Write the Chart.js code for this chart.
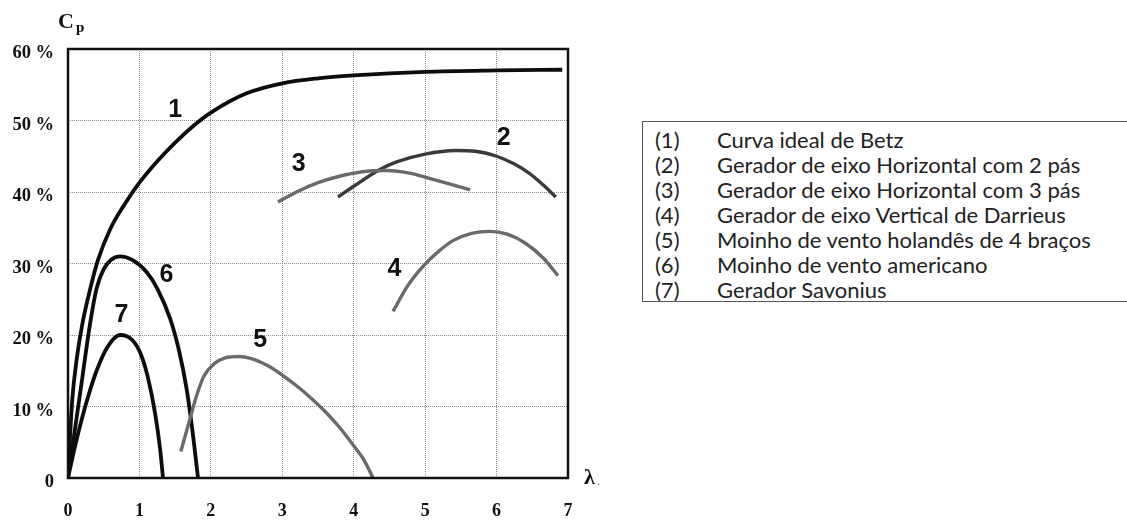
<!DOCTYPE html>
<html>
<head>
<meta charset="utf-8">
<script src="https://cdn.jsdelivr.net/npm/chart.js@4.4.1/dist/chart.umd.min.js"></script>
<style>
  body { margin: 0; background: #fff; width: 1127px; height: 523px; overflow: hidden; position: relative; }
  #wrap { position: absolute; left: 0; top: 0; width: 620px; height: 523px; }
  #legend {
    position: absolute; left: 642px; top: 121px; width: 500px; height: 181px;
    border: 1px solid #555; box-sizing: border-box;
    font-family: Lato, "Open Sans", sans-serif; font-size: 22px; color: #222;
    padding-top: 5px;
  }
  #legend .row { height: 25px; line-height: 25px; white-space: nowrap; }
  #legend .num { display: inline-block; width: 74px; padding-left: 12px; box-sizing: border-box; }
</style>
</head>
<body>
<div id="wrap"><canvas id="cp-chart" width="620" height="523"></canvas></div>
<div id="legend"></div>
<script>
// power coefficient Cp (%) against tip speed ratio lambda

// (1) ideal Betz curve
const betzX = [0, 0.03, 0.06, 0.12, 0.2, 0.3, 0.42, 0.6, 0.8, 1.0, 1.25, 1.5, 1.75, 2.0, 2.5, 3.0, 3.5, 4.0, 5.0, 6.0, 6.92];
const betzY = [0, 6, 11, 16.5, 21.5, 26, 30.5, 35, 38.4, 41.3, 44.3, 46.9, 49.2, 51.1, 53.8, 55.2, 55.9, 56.3, 56.8, 57, 57.1];

// (2) horizontal axis, 2 blades
const twoBladeX = [3.78, 4.0, 4.36, 4.6, 5.0, 5.43, 5.7, 6.0, 6.25, 6.46, 6.65, 6.83];
const twoBladeY = [39.3, 40.8, 43.1, 44.2, 45.3, 45.8, 45.7, 45, 43.9, 42.6, 41, 39.3];

// (3) horizontal axis, 3 blades
const threeBladeX = [2.94, 3.2, 3.5, 3.8, 4.1, 4.46, 4.8, 5.06, 5.35, 5.63];
const threeBladeY = [38.6, 40, 41.3, 42.2, 42.8, 43, 42.6, 41.9, 41.1, 40.3];

// (4) Darrieus
const darrieusX = [4.55, 4.75, 4.97, 5.2, 5.39, 5.65, 5.9, 6.15, 6.41, 6.65, 6.86];
const darrieusY = [23.3, 26.8, 29.6, 31.8, 33.2, 34.2, 34.5, 34.1, 32.8, 30.8, 28.3];

// (5) dutch four-arm windmill
const dutchX = [1.58, 1.7, 1.8, 1.9, 2.05, 2.2, 2.4, 2.6, 2.8, 3.0, 3.2, 3.4, 3.6, 3.8, 4.0, 4.15, 4.27];
const dutchY = [3.7, 8, 11.5, 14.2, 16, 16.8, 17, 16.6, 15.7, 14.4, 12.9, 11.2, 9.3, 7.1, 4.5, 2.4, 0];

// (6) american multi-blade
const americanX = [0, 0.1, 0.2, 0.3, 0.4, 0.5, 0.6, 0.73, 0.9, 1.1, 1.25, 1.43, 1.55, 1.66, 1.75, 1.82];
const americanY = [0, 7, 14, 21, 26.5, 29.2, 30.5, 31, 30.5, 28.8, 26.5, 22.3, 18, 12.5, 6, 0];

// (7) Savonius
const savoniusX = [0, 0.1, 0.2, 0.3, 0.4, 0.55, 0.73, 0.9, 1.02, 1.12, 1.22, 1.29, 1.33];
const savoniusY = [0, 4.5, 8.5, 12, 15, 18.3, 20, 19.3, 17.3, 14, 9, 4, 0];

// numbers written next to each curve (lambda, Cp)
const tagText = ['1', '2', '3', '4', '5', '6', '7'];
const tagX = [1.5, 6.1, 3.23, 4.57, 2.69, 1.38, 0.75];
const tagY = [51.5, 47.6, 43.9, 29.2, 19.3, 28.4, 22.8];

const legendNums = ['(1)', '(2)', '(3)', '(4)', '(5)', '(6)', '(7)'];
const legendTexts = [
  'Curva ideal de Betz',
  'Gerador de eixo Horizontal com 2 pás',
  'Gerador de eixo Horizontal com 3 pás',
  'Gerador de eixo Vertical de Darrieus',
  'Moinho de vento holandês de 4 braços',
  'Moinho de vento americano',
  'Gerador Savonius'
];

const toPoints = (xs, ys) => xs.map((x, i) => ({ x: x, y: ys[i] }));

function curve(xs, ys, color, width) {
  return {
    data: toPoints(xs, ys),
    showLine: true,
    borderColor: color,
    borderWidth: width,
    pointRadius: 0,
    cubicInterpolationMode: 'monotone',
    borderCapStyle: 'butt',
    fill: false
  };
}

const serif = '"Liberation Serif", "DejaVu Serif", serif';

// frame, curve numbers, Cp and lambda
const extras = {
  id: 'extras',
  afterDraw(chart) {
    const { ctx, chartArea: a, scales } = chart;
    ctx.save();
    ctx.strokeStyle = '#111';
    ctx.lineWidth = 2.5;
    ctx.strokeRect(a.left, a.top, a.right - a.left, a.bottom - a.top);

    ctx.fillStyle = '#111';
    ctx.font = 'bold 25px "Liberation Sans", Arial, sans-serif';
    ctx.textAlign = 'center';
    ctx.textBaseline = 'middle';
    tagText.forEach((t, i) => {
      ctx.fillText(t, scales.x.getPixelForValue(tagX[i]), scales.y.getPixelForValue(tagY[i]));
    });

    ctx.textAlign = 'left';
    ctx.textBaseline = 'alphabetic';
    ctx.font = 'bold 22px ' + serif;
    ctx.fillText('C', a.left - 10, a.top - 21);
    ctx.font = 'bold 15px ' + serif;
    ctx.fillText('p', a.left + 8, a.top - 17);

    ctx.font = 'bold 22px ' + serif;
    ctx.textBaseline = 'middle';
    ctx.fillText('λ', a.right + 16, a.bottom);
    ctx.font = '12px ' + serif;
    ctx.fillStyle = '#777';
    ctx.fillText('.', a.right + 29, a.bottom + 4);
    ctx.restore();
  }
};

new Chart(document.getElementById('cp-chart'), {
  type: 'scatter',
  data: {
    datasets: [
      curve(dutchX, dutchY, '#6a6a6a', 3.4),
      curve(darrieusX, darrieusY, '#6a6a6a', 3.4),
      curve(threeBladeX, threeBladeY, '#6a6a6a', 3.4),
      curve(twoBladeX, twoBladeY, '#3a3a3a', 3.4),
      curve(savoniusX, savoniusY, '#0d0d0d', 3.8),
      curve(americanX, americanY, '#0d0d0d', 3.8),
      curve(betzX, betzY, '#0d0d0d', 3.8)
    ]
  },
  options: {
    responsive: false,
    animation: false,
    layout: { padding: { top: 49, right: 52, left: 0, bottom: 0 } },
    plugins: { legend: { display: false }, tooltip: { enabled: false } },
    scales: {
      x: {
        type: 'linear', min: 0, max: 7,
        afterFit(scale) { scale.height = 45; },
        grid: { color: '#8a8a8a', lineWidth: 1, drawTicks: false },
        border: { display: false, dash: [1, 1] },
        ticks: {
          stepSize: 1, padding: 23, color: '#111',
          font: { family: serif, size: 18, weight: 'bold' }
        }
      },
      y: {
        type: 'linear', min: 0, max: 60,
        afterFit(scale) { scale.width = 68; },
        grid: { color: '#8a8a8a', lineWidth: 1, drawTicks: false },
        border: { display: false, dash: [1, 1] },
        ticks: {
          stepSize: 10, padding: 14, color: '#111',
          // empty first line pushes each label a little below its grid line
          font: { family: serif, size: 18.5, weight: 'bold', lineHeight: 0.5 },
          callback: (v) => ['', v === 0 ? '0' : v + ' %']
        }
      }
    }
  },
  plugins: [extras]
});

// legend box on the right
const legend = document.getElementById('legend');
legendTexts.forEach((t, i) => {
  const row = document.createElement('div');
  row.className = 'row';
  const num = document.createElement('span');
  num.className = 'num';
  num.textContent = legendNums[i];
  row.appendChild(num);
  row.appendChild(document.createTextNode(t));
  legend.appendChild(row);
});
</script>
</body>
</html>
